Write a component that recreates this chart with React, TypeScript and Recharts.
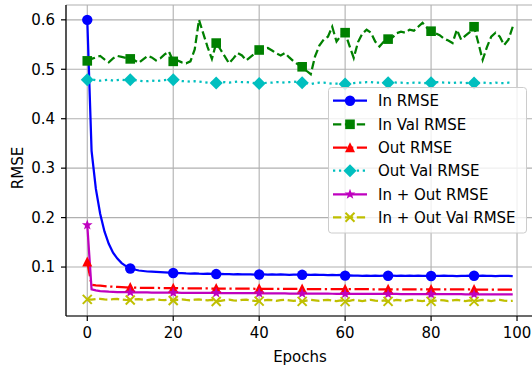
import React from 'react';
import { LineChart, Line, XAxis, YAxis, CartesianGrid, Legend } from 'recharts';

const epochs: number[] = [
  0, 1, 2, 3, 4, 5, 6, 7, 8, 9, 10, 11, 12, 13, 14, 15, 16, 17, 18, 19,
  20, 21, 22, 23, 24, 25, 26, 27, 28, 29, 30, 31, 32, 33, 34, 35, 36, 37, 38, 39,
  40, 41, 42, 43, 44, 45, 46, 47, 48, 49, 50, 51, 52, 53, 54, 55, 56, 57, 58, 59,
  60, 61, 62, 63, 64, 65, 66, 67, 68, 69, 70, 71, 72, 73, 74, 75, 76, 77, 78, 79,
  80, 81, 82, 83, 84, 85, 86, 87, 88, 89, 90, 91, 92, 93, 94, 95, 96, 97, 98, 99,
];

const inRmse: number[] = [
  0.600, 0.335, 0.258, 0.208, 0.172, 0.147, 0.129, 0.117, 0.108, 0.102,
  0.097, 0.095, 0.093, 0.092, 0.091, 0.0905, 0.0900, 0.0895, 0.0890, 0.0885,
  0.0880, 0.0878, 0.0875, 0.0870, 0.0868, 0.0872, 0.0866, 0.0862, 0.0865, 0.0860,
  0.0858, 0.0862, 0.0855, 0.0858, 0.0852, 0.0856, 0.0850, 0.0854, 0.0851, 0.0849,
  0.0850, 0.0853, 0.0848, 0.0851, 0.0846, 0.0850, 0.0847, 0.0844, 0.0849, 0.0845,
  0.0843, 0.0846, 0.0841, 0.0845, 0.0840, 0.0843, 0.0839, 0.0842, 0.0838, 0.0841,
  0.0826, 0.0830, 0.0825, 0.0829, 0.0824, 0.0828, 0.0823, 0.0827, 0.0824, 0.0826,
  0.0825, 0.0828, 0.0823, 0.0827, 0.0822, 0.0826, 0.0821, 0.0825, 0.0822, 0.0824,
  0.0820, 0.0824, 0.0821, 0.0825, 0.0820, 0.0823, 0.0819, 0.0824, 0.0821, 0.0825,
  0.0824, 0.0821, 0.0825, 0.0820, 0.0824, 0.0819, 0.0823, 0.0820, 0.0822, 0.0818,
];

const inValRmse: number[] = [
  0.517, 0.521, 0.524, 0.527, 0.520, 0.514, 0.522, 0.527, 0.525, 0.523,
  0.521, 0.518, 0.513, 0.520, 0.527, 0.524, 0.518, 0.522, 0.530, 0.536,
  0.516, 0.518, 0.514, 0.512, 0.516, 0.540, 0.600, 0.572, 0.545, 0.521,
  0.553, 0.540, 0.526, 0.512, 0.522, 0.533, 0.528, 0.518, 0.525, 0.532,
  0.539, 0.542, 0.543, 0.538, 0.532, 0.528, 0.533, 0.524, 0.516, 0.510,
  0.505, 0.497, 0.490, 0.526, 0.548, 0.560, 0.566, 0.586, 0.556, 0.568,
  0.574, 0.548, 0.523, 0.555, 0.572, 0.580, 0.574, 0.556, 0.546, 0.556,
  0.561, 0.564, 0.573, 0.576, 0.574, 0.580, 0.578, 0.586, 0.594, 0.584,
  0.577, 0.573, 0.569, 0.562, 0.558, 0.553, 0.580, 0.560, 0.568, 0.575,
  0.586, 0.553, 0.519, 0.545, 0.566, 0.574, 0.566, 0.549, 0.560, 0.586,
];

const outRmse: number[] = [
  0.110, 0.064, 0.0630, 0.0622, 0.0615, 0.0608, 0.0602, 0.0597, 0.0592, 0.0588,
  0.0585, 0.0583, 0.0581, 0.0580, 0.0579, 0.0578, 0.0577, 0.0576, 0.0575, 0.0574,
  0.0573, 0.0572, 0.0571, 0.0570, 0.0570, 0.0569, 0.0568, 0.0568, 0.0567, 0.0566,
  0.0566, 0.0565, 0.0565, 0.0564, 0.0564, 0.0563, 0.0563, 0.0562, 0.0562, 0.0561,
  0.0561, 0.0560, 0.0560, 0.0560, 0.0559, 0.0559, 0.0558, 0.0558, 0.0558, 0.0557,
  0.0557, 0.0556, 0.0556, 0.0556, 0.0555, 0.0555, 0.0555, 0.0554, 0.0554, 0.0554,
  0.0553, 0.0553, 0.0553, 0.0552, 0.0552, 0.0552, 0.0551, 0.0551, 0.0551, 0.0551,
  0.0550, 0.0550, 0.0550, 0.0550, 0.0549, 0.0549, 0.0549, 0.0549, 0.0548, 0.0548,
  0.0548, 0.0548, 0.0547, 0.0547, 0.0547, 0.0547, 0.0546, 0.0546, 0.0546, 0.0546,
  0.0545, 0.0545, 0.0545, 0.0545, 0.0544, 0.0544, 0.0544, 0.0544, 0.0543, 0.0543,
];

const outValRmse: number[] = [
  0.479, 0.480, 0.478, 0.477, 0.478, 0.479, 0.477, 0.478, 0.479, 0.478,
  0.479, 0.478, 0.477, 0.476, 0.476, 0.477, 0.476, 0.477, 0.478, 0.479,
  0.479, 0.477, 0.476, 0.476, 0.475, 0.476, 0.475, 0.474, 0.473, 0.473,
  0.472, 0.473, 0.474, 0.473, 0.474, 0.475, 0.474, 0.474, 0.473, 0.472,
  0.471, 0.472, 0.473, 0.473, 0.474, 0.474, 0.473, 0.474, 0.475, 0.474,
  0.473, 0.472, 0.470, 0.472, 0.473, 0.473, 0.472, 0.471, 0.471, 0.471,
  0.470, 0.471, 0.472, 0.473, 0.473, 0.474, 0.474, 0.473, 0.473, 0.472,
  0.473, 0.474, 0.473, 0.473, 0.472, 0.472, 0.473, 0.473, 0.472, 0.472,
  0.473, 0.474, 0.474, 0.473, 0.473, 0.472, 0.473, 0.473, 0.472, 0.473,
  0.472, 0.472, 0.473, 0.472, 0.472, 0.473, 0.472, 0.472, 0.473, 0.473,
];

const inOutRmse: number[] = [
  0.185, 0.0550, 0.0530, 0.0515, 0.0508, 0.0502, 0.0498, 0.0495, 0.0493, 0.0491,
  0.0490, 0.0489, 0.0488, 0.0487, 0.0486, 0.0485, 0.0484, 0.0484, 0.0483, 0.0482,
  0.0482, 0.0481, 0.0480, 0.0480, 0.0479, 0.0478, 0.0478, 0.0477, 0.0477, 0.0476,
  0.0476, 0.0475, 0.0475, 0.0474, 0.0474, 0.0473, 0.0473, 0.0472, 0.0472, 0.0471,
  0.0471, 0.0470, 0.0470, 0.0469, 0.0469, 0.0466, 0.0466, 0.0465, 0.0465, 0.0464,
  0.0464, 0.0463, 0.0463, 0.0462, 0.0462, 0.0461, 0.0461, 0.0460, 0.0460, 0.0459,
  0.0459, 0.0458, 0.0458, 0.0458, 0.0457, 0.0457, 0.0457, 0.0456, 0.0456, 0.0456,
  0.0455, 0.0455, 0.0455, 0.0454, 0.0454, 0.0454, 0.0453, 0.0453, 0.0453, 0.0452,
  0.0452, 0.0452, 0.0451, 0.0451, 0.0451, 0.0450, 0.0450, 0.0450, 0.0449, 0.0449,
  0.0449, 0.0448, 0.0448, 0.0448, 0.0447, 0.0447, 0.0447, 0.0446, 0.0446, 0.0446,
];

const inOutValRmse: number[] = [
  0.0346, 0.0340, 0.0352, 0.0356, 0.0344, 0.0338, 0.0349, 0.0354, 0.0341, 0.0336,
  0.0333, 0.0345, 0.0351, 0.0339, 0.0332, 0.0346, 0.0350, 0.0337, 0.0331, 0.0343,
  0.0323, 0.0338, 0.0345, 0.0334, 0.0328, 0.0341, 0.0346, 0.0332, 0.0326, 0.0338,
  0.0302, 0.0315, 0.0332, 0.0340, 0.0327, 0.0318, 0.0335, 0.0341, 0.0326, 0.0316,
  0.0310, 0.0325, 0.0338, 0.0329, 0.0317, 0.0331, 0.0340, 0.0327, 0.0314, 0.0324,
  0.0305, 0.0322, 0.0336, 0.0328, 0.0315, 0.0330, 0.0338, 0.0324, 0.0313, 0.0327,
  0.0300, 0.0318, 0.0334, 0.0326, 0.0312, 0.0328, 0.0337, 0.0322, 0.0311, 0.0325,
  0.0305, 0.0320, 0.0335, 0.0327, 0.0313, 0.0329, 0.0336, 0.0321, 0.0312, 0.0326,
  0.0305, 0.0319, 0.0334, 0.0326, 0.0312, 0.0328, 0.0337, 0.0323, 0.0311, 0.0325,
  0.0306, 0.0320, 0.0335, 0.0327, 0.0313, 0.0329, 0.0336, 0.0322, 0.0312, 0.0318,
];

const xTicks: number[] = [0, 20, 40, 60, 80, 100];
const yTicks: number[] = [0.1, 0.2, 0.3, 0.4, 0.5, 0.6];

const data = epochs.map((e, i) => ({
  epoch: e,
  inRmse: inRmse[i],
  inValRmse: inValRmse[i],
  outRmse: outRmse[i],
  outValRmse: outValRmse[i],
  inOutRmse: inOutRmse[i],
  inOutValRmse: inOutValRmse[i],
}));

type Shape = 'circle' | 'square' | 'triangle' | 'diamond' | 'star' | 'x';

const FONT = 'DejaVu Sans, sans-serif';
const LW = 2.25;

const series: { key: string; name: string; color: string; dash?: string; shape: Shape }[] = [
  { key: 'inRmse', name: 'In RMSE', color: '#0000ff', shape: 'circle' },
  { key: 'inValRmse', name: 'In Val RMSE', color: '#008000', dash: '8.3 3.6', shape: 'square' },
  { key: 'outRmse', name: 'Out RMSE', color: '#ff0000', dash: '14.4 3.6 2.25 3.6', shape: 'triangle' },
  { key: 'outValRmse', name: 'Out Val RMSE', color: '#00bfbf', dash: '2.25 3.7', shape: 'diamond' },
  { key: 'inOutRmse', name: 'In + Out RMSE', color: '#bf00bf', shape: 'star' },
  { key: 'inOutValRmse', name: 'In + Out Val RMSE', color: '#bfbf00', dash: '8.3 3.6', shape: 'x' },
];

function starPath(cx: number, cy: number, ro: number, ri: number) {
  const pts: string[] = [];
  for (let k = 0; k < 10; k++) {
    const r = k % 2 === 0 ? ro : ri;
    const a = -Math.PI / 2 + (k * Math.PI) / 5;
    pts.push(`${cx + r * Math.cos(a)},${cy + r * Math.sin(a)}`);
  }
  return `M${pts.join('L')}Z`;
}

function Marker({ shape, cx, cy, color }: { shape: Shape; cx: number; cy: number; color: string }) {
  switch (shape) {
    case 'circle':
      return <circle cx={cx} cy={cy} r={5.2} fill={color} />;
    case 'square':
      return <rect x={cx - 4.8} y={cy - 4.8} width={9.6} height={9.6} fill={color} />;
    case 'triangle':
      return <polygon points={`${cx},${cy - 5.5} ${cx + 5},${cy + 4.5} ${cx - 5},${cy + 4.5}`} fill={color} />;
    case 'diamond':
      return <polygon points={`${cx},${cy - 6.5} ${cx + 6.5},${cy} ${cx},${cy + 6.5} ${cx - 6.5},${cy}`} fill={color} />;
    case 'star':
      return <path d={starPath(cx, cy, 5.6, 2.3)} fill={color} />;
    case 'x':
      return (
        <g stroke={color} strokeWidth={2}>
          <line x1={cx - 4.5} y1={cy - 4.5} x2={cx + 4.5} y2={cy + 4.5} />
          <line x1={cx - 4.5} y1={cy + 4.5} x2={cx + 4.5} y2={cy - 4.5} />
        </g>
      );
  }
  return null;
}

const makeDot = (shape: Shape, color: string) => (props: any) => {
  const { cx, cy, index } = props;
  if (index % 10 !== 0 || cx == null || cy == null) return <g key={`e-${shape}-${index}`} />;
  return (
    <g key={`m-${shape}-${index}`}>
      <Marker shape={shape} cx={cx} cy={cy} color={color} />
    </g>
  );
};

function LegendBox() {
  const rows = [13.7, 37.3, 60.7, 83.7, 107.3, 130.3];
  return (
    <svg width={200} height={148} style={{ display: 'block' }}>
      <rect x={0.5} y={0.5} width={198} height={145.5} rx={3} fill="rgba(255,255,255,0.8)" stroke="#cccccc" strokeWidth={1} />
      {series.map((s, i) => (
        <g key={s.key}>
          <line x1={5} x2={39} y1={rows[i]} y2={rows[i]} stroke={s.color} strokeWidth={LW} strokeDasharray={s.dash} />
          <Marker shape={s.shape} cx={22} cy={rows[i]} color={s.color} />
          <text x={50} y={rows[i] + 5.5} fontSize={15} fontFamily={FONT} fill="#000">
            {s.name}
          </text>
        </g>
      ))}
    </svg>
  );
}

function YTitle() {
  return (
    <text x={22.5} y={168} transform="rotate(-90, 22.5, 168)" textAnchor="middle" fontSize={15} fontFamily={FONT} fill="#000">
      RMSE
    </text>
  );
}

function XTitle() {
  return (
    <text x={300} y={362} textAnchor="middle" fontSize={15} fontFamily={FONT} fill="#000">
      Epochs
    </text>
  );
}

export default function App() {
  const tickStyle = { fill: '#000', fontSize: 15, fontFamily: FONT };
  return (
    <div style={{ position: 'absolute', left: 0, top: 0, width: 532, height: 371, overflow: 'hidden', background: '#fff' }}>
      <LineChart width={540} height={371} data={data} margin={{ top: 5, right: 6, bottom: 0, left: 0 }}>
        <CartesianGrid stroke="#b0b0b0" strokeWidth={1.1} />
        <XAxis
          dataKey="epoch"
          type="number"
          domain={[-4.95, 103.95]}
          ticks={xTicks}
          allowDataOverflow
          height={55}
          tick={tickStyle}
          tickSize={5}
          tickMargin={6}
          stroke="#000"
          axisLine={{ stroke: '#000', strokeWidth: 1.2 }}
          tickLine={{ stroke: '#000', strokeWidth: 1.2 }}
          label={<XTitle />}
        />
        <XAxis
          xAxisId="top"
          orientation="top"
          dataKey="epoch"
          type="number"
          domain={[-4.95, 103.95]}
          height={0}
          tick={false}
          tickLine={false}
          axisLine={{ stroke: '#000', strokeWidth: 1.2 }}
        />
        <YAxis
          type="number"
          domain={[0.001, 0.63]}
          ticks={yTicks}
          allowDataOverflow
          width={66}
          tick={tickStyle}
          tickSize={5}
          tickMargin={6}
          tickFormatter={(v: number) => v.toFixed(1)}
          axisLine={{ stroke: '#000', strokeWidth: 1.2 }}
          tickLine={{ stroke: '#000', strokeWidth: 1.2 }}
          label={<YTitle />}
        />
        {series.map((s) => (
          <Line
            key={s.key}
            dataKey={s.key}
            name={s.name}
            type="linear"
            stroke={s.color}
            strokeWidth={LW}
            strokeDasharray={s.dash}
            dot={makeDot(s.shape, s.color)}
            activeDot={false}
            isAnimationActive={false}
          />
        ))}
        <Legend
          layout="horizontal"
          verticalAlign="middle"
          align="center"
          content={() => <LegendBox />}
          wrapperStyle={{ left: 328, top: 87, width: 200, height: 148 }}
        />
      </LineChart>
    </div>
  );
}
